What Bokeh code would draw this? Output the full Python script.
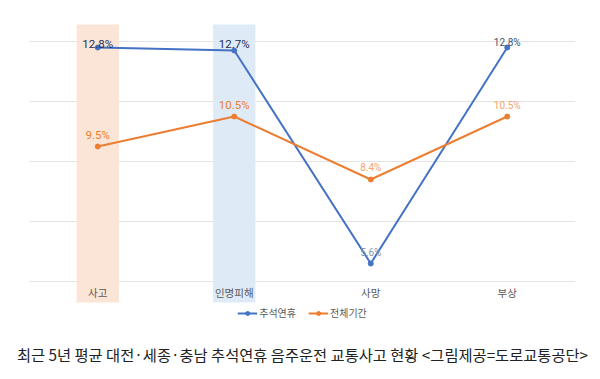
from bokeh.plotting import figure
from bokeh.models import (ColumnDataSource, FactorRange, Range1d, FixedTicker,
                          Legend, LegendItem, Title)
from bokeh.embed import file_html
from bokeh.resources import INLINE
from bokeh.core.properties import value

# ---- data ----
categories = ["사고", "인명피해", "사망", "부상"]
chuseok = [12.8, 12.7, 5.6, 12.8]          # 추석연휴
total = [9.5, 10.5, 8.4, 10.5]             # 전체기간
series_names = ["추석연휴", "전체기간"]
highlight_cats = ["사고", "인명피해"]
grid_ticks = [5, 7, 9, 11, 13]
caption = "최근 5년 평균 대전·세종·충남 추석연휴 음주운전 교통사고 현황 <그림제공=도로교통공단>"

# ---- styles ----
BLUE = "#4472C4"
ORANGE = "#ED7D31"
KFONT = "Noto Sans CJK KR"
NFONT = "Roboto"

p = figure(width=592, height=371,
           x_range=FactorRange(*categories),
           y_range=Range1d(3.5, 14),
           output_backend="svg", toolbar_location=None,
           x_axis_location=None, y_axis_location=None,
           min_border_left=29, min_border_right=17,
           min_border_top=11, min_border_bottom=45)
p.outline_line_color = None
p.xgrid.visible = False
p.ygrid.ticker = FixedTicker(ticks=grid_ticks)
p.ygrid.grid_line_color = "#E3E3E3"
p.ygrid.grid_line_width = 1

# highlight bands
p.vbar(x=highlight_cats, top=13.57, bottom=4.3, width=0.31,
       fill_color=["#FBE5D6", "#DEEBF7"], line_color=None)

# category labels
p.text(x=categories, y=[4.63] * len(categories), text=categories,
       text_align="center", text_baseline="middle",
       text_font=value(KFONT), text_font_size="10.5px", text_color="#595959")

# lines
l1 = p.line(categories, chuseok, line_color=BLUE, line_width=2)
s1 = p.scatter(categories, chuseok, size=5, fill_color=BLUE, line_color=BLUE)
l2 = p.line(categories, total, line_color=ORANGE, line_width=2)
s2 = p.scatter(categories, total, size=5, fill_color=ORANGE, line_color=ORANGE)

# data labels
fmt = lambda v: f"{v:.1f}%"
lab = ColumnDataSource(dict(
    x=categories + categories,
    y=chuseok + total,
    text=[fmt(v) for v in chuseok] + [fmt(v) for v in total],
    color=["#1F2D5A", "#1F2D5A", "#8496B0", "#44546A",
           ORANGE, ORANGE, "#F3A46B", "#F3A46B"],
    size=["11.5px", "11.5px", "10px", "10px",
          "11.5px", "11.5px", "10px", "10px"],
    dy=[-4, -7, -11, -5.5, -12, -12, -12, -11],
))
p.text(x="x", y="y", text="text", source=lab, y_offset="dy",
       text_align="center", text_baseline="middle",
       text_font=value(NFONT), text_font_size="size", text_color="color")

legend = Legend(items=[LegendItem(label=series_names[0], renderers=[l1, s1]),
                       LegendItem(label=series_names[1], renderers=[l2, s2])],
                orientation="horizontal", location="bottom_center",
                label_text_font=KFONT, label_text_font_size="10px",
                label_text_color="#595959",
                glyph_width=20, glyph_height=10, label_standoff=2,
                spacing=12, padding=0, margin=6,
                border_line_color=None, background_fill_alpha=0)
p.add_layout(legend)

# spacer above caption
p.add_layout(Title(text=" ", text_font_size="7px", standoff=0), "below")
p.add_layout(Title(text=caption, align="center", text_font=KFONT,
                   text_font_size="15.3px", text_font_style="normal",
                   text_color="#222222"), "below")

open("out.html", "w").write(file_html(p, INLINE))
